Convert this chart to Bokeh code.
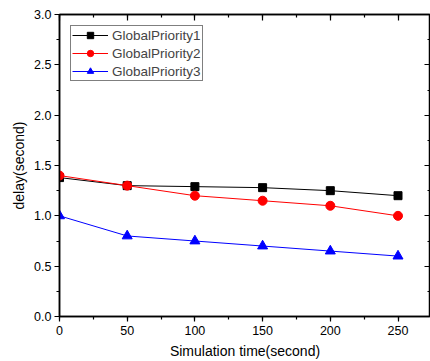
from bokeh.plotting import figure
from bokeh.models import (LinearAxis, SingleIntervalTicker, Range1d, Legend, LegendItem,
                          PrintfTickFormatter, CustomJSTickFormatter)
from bokeh.embed import file_html
from bokeh.resources import INLINE

x = [0, 50, 100, 150, 200, 250]
gp1 = [1.38, 1.30, 1.29, 1.28, 1.25, 1.20]
gp2 = [1.40, 1.30, 1.20, 1.15, 1.10, 1.00]
gp3 = [1.00, 0.80, 0.75, 0.70, 0.65, 0.60]
names = ["GlobalPriority1", "GlobalPriority2", "GlobalPriority3"]

FONT = "Liberation Sans"

p = figure(width=430, height=361, output_backend="svg", toolbar_location=None,
           x_range=Range1d(0, 274), y_range=Range1d(0, 3.0),
           min_border_left=59, min_border_top=14, min_border_right=0, min_border_bottom=0,
           x_axis_label="Simulation time(second)", y_axis_label="delay(second)")
p.grid.visible = False
p.outline_line_color = "black"
p.outline_line_width = 1.5
p.background_fill_color = "white"
p.border_fill_color = "white"

p.xaxis.ticker = SingleIntervalTicker(interval=50, num_minor_ticks=2)
p.yaxis.ticker = SingleIntervalTicker(interval=0.5, num_minor_ticks=2)
p.yaxis.formatter = PrintfTickFormatter(format="%.1f")

for ax in [p.xaxis[0], p.yaxis[0]]:
    ax.axis_line_width = 1.5
    ax.major_tick_line_width = 1.2
    ax.minor_tick_line_width = 1.2
    ax.major_tick_in = 0
    ax.major_tick_out = 5
    ax.minor_tick_in = 0
    ax.minor_tick_out = 3
    ax.major_label_text_font = FONT
    ax.major_label_text_font_size = "12.5px"
    ax.major_label_text_color = "black"
    ax.axis_label_text_font = FONT
    ax.axis_label_text_font_size = "14px"
    ax.axis_label_text_font_style = "normal"
    ax.axis_label_text_color = "black"
p.xaxis.major_label_standoff = 4
p.xaxis.axis_label_standoff = 5
p.yaxis.major_label_standoff = 3
p.yaxis.axis_label_standoff = 4

blank = CustomJSTickFormatter(code="return '';")
top = LinearAxis(ticker=SingleIntervalTicker(interval=50, num_minor_ticks=2), formatter=blank)
right = LinearAxis(ticker=SingleIntervalTicker(interval=0.5, num_minor_ticks=2), formatter=blank)
for ax in [top, right]:
    ax.axis_line_width = 1.5
    ax.major_tick_line_width = 1.2
    ax.minor_tick_line_width = 1.2
    ax.major_tick_in = 6
    ax.major_tick_out = 0
    ax.minor_tick_in = 3
    ax.minor_tick_out = 0
    ax.major_label_standoff = 0
    ax.axis_label = None
p.add_layout(top, "above")
p.add_layout(right, "right")

r1l = p.line(x, gp1, color="black", line_width=1)
r1m = p.scatter(x, gp1, marker="square", size=8, color="black")
r2l = p.line(x, gp2, color="red", line_width=1)
r2m = p.scatter(x, gp2, marker="circle", size=9, color="red")
r3l = p.line(x, gp3, color="blue", line_width=1)
r3m = p.scatter(x, gp3, marker="triangle", size=10, color="blue")

legend = Legend(items=[
    LegendItem(label=names[0], renderers=[r1l, r1m]),
    LegendItem(label=names[1], renderers=[r2l, r2m]),
    LegendItem(label=names[2], renderers=[r3l, r3m]),
], location="top_left")
legend.margin = 11
legend.padding = 1
legend.spacing = 2
legend.label_height = 16
legend.glyph_height = 16
legend.glyph_width = 36
legend.label_standoff = 4
legend.label_text_font = FONT
legend.label_text_font_size = "13.5px"
legend.border_line_color = "black"
legend.border_line_width = 1
legend.background_fill_alpha = 1
p.add_layout(legend, "center")

open("out.html", "w").write(file_html(p, INLINE))
